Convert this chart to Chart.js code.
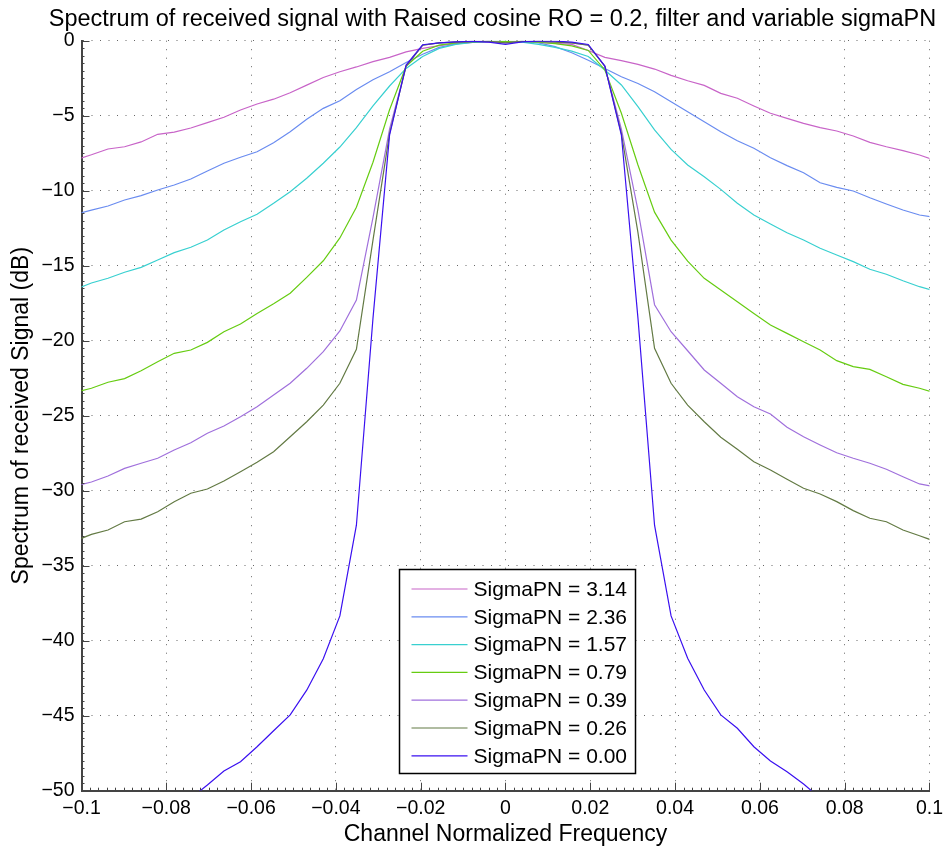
<!DOCTYPE html>
<html>
<head>
<meta charset="utf-8">
<title>Spectrum of received signal</title>
<script src="https://cdn.jsdelivr.net/npm/chart.js@4.4.1/dist/chart.umd.min.js"></script>
<style>
  html, body { margin: 0; padding: 0; background: #fff; }
  #wrap { width: 949px; height: 848px; }
</style>
</head>
<body>
<div id="wrap"><canvas id="spectrumChart" width="949" height="848"></canvas></div>
<script>
// frequency grid (1/256 steps), shared by every curve
const freq = [-0.10156, -0.09766, -0.09375, -0.08984, -0.08594, -0.08203, -0.07813, -0.07422, -0.07031,
  -0.06641, -0.0625, -0.05859, -0.05469, -0.05078, -0.04688, -0.04297, -0.03906, -0.03516, -0.03125,
  -0.02734, -0.02344, -0.01953, -0.01563, -0.01172, -0.00781, -0.00391, 0,
  0.00391, 0.00781, 0.01172, 0.01563, 0.01953, 0.02344, 0.02734, 0.03125, 0.03516, 0.03906, 0.04297,
  0.04688, 0.05078, 0.05469, 0.05859, 0.0625, 0.06641, 0.07031, 0.07422, 0.07813, 0.08203, 0.08594,
  0.08984, 0.09375, 0.09766, 0.10156];

// spectrum in dB, one array per sigmaPN value
const sigma314 = [-7.95, -7.6, -7.22, -7.07, -6.75, -6.24, -6.09, -5.82, -5.46, -5.1, -4.62, -4.22, -3.9, -3.47,
  -2.96, -2.45, -2.07, -1.75, -1.4, -1.11, -0.75, -0.51, -0.33, -0.2, -0.12, -0.08, -0.1,
  -0.08, -0.12, -0.18, -0.25, -0.65, -1.11, -1.33, -1.58, -1.89, -2.31, -2.67, -2.98, -3.51, -3.84,
  -4.35, -4.84, -5.18, -5.51, -5.8, -6.02, -6.35, -6.78, -7.07, -7.33, -7.62, -8.0];
const sigma236 = [-11.6, -11.29, -11.02, -10.62, -10.33, -9.95, -9.62, -9.22, -8.69, -8.17, -7.77, -7.4, -6.8,
  -6.07, -5.24, -4.51, -4.0, -3.25, -2.6, -2.07, -1.45, -0.9, -0.45, -0.22, -0.1, -0.05, -0.1,
  -0.05, -0.15, -0.4, -0.8, -1.3, -1.85, -2.4, -2.85, -3.4, -4.07, -4.73, -5.4, -6.07, -6.67, -7.17,
  -7.8, -8.33, -8.8, -9.47, -9.78, -10.02, -10.47, -10.89, -11.29, -11.62, -11.8];
const sigma157 = [-16.6, -16.15, -15.84, -15.44, -15.11, -14.62, -14.13, -13.77, -13.29, -12.62, -12.07, -11.57,
  -10.84, -10.07, -9.17, -8.17, -7.09, -5.8, -4.35, -3.02, -1.85, -1.05, -0.51, -0.25, -0.12, -0.05, -0.05,
  -0.1, -0.25, -0.45, -0.7, -1.05, -1.95, -2.95, -4.4, -5.95, -7.25, -8.29, -9.07, -9.91, -10.84, -11.62,
  -12.22, -12.8, -13.29, -13.84, -14.29, -14.73, -15.24, -15.57, -16.0, -16.4, -16.7];
const sigma079 = [-23.45, -23.17, -22.77, -22.53, -22.0, -21.4, -20.84, -20.62, -20.11, -19.4, -18.89, -18.18,
  -17.53, -16.84, -15.78, -14.67, -13.15, -11.1, -8.1, -4.6, -1.7, -0.7, -0.3, -0.15, -0.08, -0.05, -0.05,
  -0.05, -0.1, -0.2, -0.35, -0.65, -1.95, -4.84, -8.29, -11.43, -13.29, -14.69, -15.84, -16.62, -17.4,
  -18.18, -18.95, -19.51, -20.07, -20.62, -21.33, -21.73, -21.91, -22.4, -22.91, -23.17, -23.5];
const sigma039 = [-29.7, -29.42, -29.02, -28.51, -28.17, -27.84, -27.29, -26.8, -26.17, -25.69, -25.07, -24.4,
  -23.62, -22.84, -21.84, -20.73, -19.35, -17.29, -11.8, -5.9, -1.7, -0.3, -0.15, -0.1, -0.05, -0.05, -0.15,
  -0.05, -0.05, -0.1, -0.15, -0.3, -1.7, -5.9, -11.3, -17.6, -19.4, -20.67, -21.95, -22.84, -23.73, -24.4,
  -24.89, -25.77, -26.4, -26.95, -27.47, -27.84, -28.17, -28.57, -29.07, -29.55, -29.75];
const sigma026 = [-33.35, -32.91, -32.62, -32.07, -31.89, -31.4, -30.73, -30.17, -29.89, -29.35, -28.73, -28.11,
  -27.4, -26.4, -25.4, -24.29, -22.84, -20.57, -13.3, -6.2, -1.7, -0.3, -0.15, -0.1, -0.05, -0.05, -0.15,
  -0.05, -0.05, -0.1, -0.15, -0.3, -1.7, -6.2, -12.8, -20.51, -22.84, -24.29, -25.4, -26.44, -27.24,
  -28.07, -28.62, -29.24, -29.84, -30.22, -30.73, -31.33, -31.84, -32.07, -32.62, -33.0, -33.4];
const sigma000 = [null, null, null, null, null, null, null, -50.5, -49.62, -48.69, -48.07, -47.07, -46.0,
  -44.95, -43.3, -41.2, -38.35, -32.3, -18.5, -6.3, -1.62, -0.27, -0.15, -0.08, -0.05, -0.1, -0.25,
  -0.08, -0.03, -0.03, -0.1, -0.25, -1.69, -6.29, -18.5, -32.3, -38.35, -41.17, -43.29, -44.95, -45.84,
  -47.07, -48.02, -48.73, -49.55, -50.5, null, null, null, null, null, null, null];

const seriesLabels = ["SigmaPN = 3.14", "SigmaPN = 2.36", "SigmaPN = 1.57", "SigmaPN = 0.79",
  "SigmaPN = 0.39", "SigmaPN = 0.26", "SigmaPN = 0.00"];
const seriesValues = [sigma314, sigma236, sigma157, sigma079, sigma039, sigma026, sigma000];
const seriesColors = ["#c864c8", "#6a8cf0", "#38d0d0", "#66cc11", "#a070dc", "#637a44", "#3a10f0"];

const xTicks = [-0.1, -0.08, -0.06, -0.04, -0.02, 0, 0.02, 0.04, 0.06, 0.08, 0.1];
const yTicks = [0, -5, -10, -15, -20, -25, -30, -35, -40, -45, -50];

const titleText = "Spectrum of received signal with Raised cosine RO = 0.2, filter and variable sigmaPN";

const FONT = "'Liberation Sans', Arial, Helvetica, sans-serif";
Chart.defaults.font.family = FONT;
Chart.defaults.color = "#000";

function minusSign(v) {
  return String(v).replace("-", "\u2212");
}

// MATLAB-like title, inward ticks and the boxed legend inside the axes
const matlabExtras = {
  id: "matlabExtras",
  afterDraw(chart) {
    const ctx = chart.ctx;
    const xs = chart.scales.x;
    const ys = chart.scales.y;
    const ca = chart.chartArea;

    // title (sits a little left of the axes centre, as in the figure)
    ctx.save();
    ctx.font = "23.5px " + FONT;
    ctx.fillStyle = "#000";
    ctx.textAlign = "center";
    ctx.textBaseline = "middle";
    ctx.fillText(titleText, (ca.left + ca.right) / 2 - 13, 20);
    ctx.restore();

    ctx.save();
    ctx.strokeStyle = "#444";
    ctx.lineWidth = 1;
    // minor + major ticks
    for (let i = 0; i <= 100; i++) {
      const px = Math.round(xs.getPixelForValue(-0.1 + i * 0.002)) + 0.5;
      const len = i % 10 === 0 ? 8 : 3;
      ctx.beginPath();
      ctx.moveTo(px, ca.bottom);
      ctx.lineTo(px, ca.bottom - len);
      ctx.stroke();
    }
    for (let i = 0; i <= 100; i++) {
      const py = Math.round(ys.getPixelForValue(-50 + i * 0.5)) + 0.5;
      const len = i % 10 === 0 ? 8 : 3;
      ctx.beginPath();
      ctx.moveTo(ca.left, py);
      ctx.lineTo(ca.left + len, py);
      ctx.stroke();
    }
    ctx.restore();

    // legend box
    const boxW = 236, boxH = 204;
    const left = Math.round(ca.left + 317) + 0.5;
    const top = Math.round(ca.bottom - 17.5 - boxH) + 0.5;
    ctx.save();
    ctx.fillStyle = "#fff";
    ctx.fillRect(left, top, boxW, boxH);
    ctx.strokeStyle = "#000";
    ctx.lineWidth = 1.5;
    ctx.strokeRect(left, top, boxW, boxH);
    ctx.font = "21px " + FONT;
    ctx.textBaseline = "middle";
    ctx.textAlign = "left";
    chart.data.datasets.forEach((ds, i) => {
      const y = top + 19.5 + i * 27.8;
      ctx.strokeStyle = ds.borderColor;
      ctx.lineWidth = 1.2;
      ctx.beginPath();
      ctx.moveTo(left + 12, y);
      ctx.lineTo(left + 68, y);
      ctx.stroke();
      ctx.fillStyle = "#000";
      ctx.fillText(ds.label, left + 74, y + 1);
    });
    ctx.restore();
  }
};

const datasets = seriesLabels.map((label, i) => ({
  label: label,
  data: freq.map((f, j) => ({ x: f, y: seriesValues[i][j] })),
  borderColor: seriesColors[i],
  backgroundColor: seriesColors[i],
  borderWidth: 1.2,
  pointRadius: 0,
  tension: 0,
  spanGaps: false,
  order: seriesLabels.length - 1 - i
}));

const ctx = document.getElementById("spectrumChart").getContext("2d");
const chart = new Chart(ctx, {
  type: "line",
  data: { datasets },
  options: {
    responsive: false,
    devicePixelRatio: 1,
    animation: false,
    layout: { padding: { left: 0, right: 16.3, top: 40.7, bottom: 0 } },
    plugins: {
      legend: { display: false },
      tooltip: { enabled: false },
      title: { display: false }
    },
    scales: {
      x: {
        type: "linear",
        min: -0.1,
        max: 0.1,
        afterBuildTicks: (scale) => { scale.ticks = xTicks.map(v => ({ value: v })); },
        afterFit: (scale) => { scale.height = 57.3; },
        grid: { color: "rgba(0,0,0,0.6)", lineWidth: 1, drawTicks: false },
        border: { display: true, color: "#444", width: 2, dash: [1, 7.5] },
        ticks: {
          autoSkip: false,
          maxRotation: 0,
          padding: 6,
          font: { size: 19.5 },
          color: "#000",
          callback: (v) => minusSign(v)
        },
        title: {
          display: true,
          text: "Channel Normalized Frequency",
          font: { size: 23 },
          color: "#000",
          padding: { top: 1, bottom: 0 }
        }
      },
      y: {
        type: "linear",
        min: -50,
        max: 0,
        afterBuildTicks: (scale) => { scale.ticks = yTicks.map(v => ({ value: v })); },
        afterFit: (scale) => { scale.width = 81.5; },
        grid: { color: "rgba(0,0,0,0.6)", lineWidth: 1, drawTicks: false },
        border: { display: true, color: "#444", width: 2, dash: [1, 7.5] },
        ticks: {
          autoSkip: false,
          padding: 7,
          font: { size: 19.5 },
          color: "#000",
          callback: (v) => minusSign(v)
        },
        title: {
          display: true,
          text: "Spectrum of received Signal (dB)",
          font: { size: 23 },
          color: "#000",
          padding: { top: 8, bottom: 0 }
        }
      }
    }
  },
  plugins: [matlabExtras]
});
</script>
</body>
</html>
